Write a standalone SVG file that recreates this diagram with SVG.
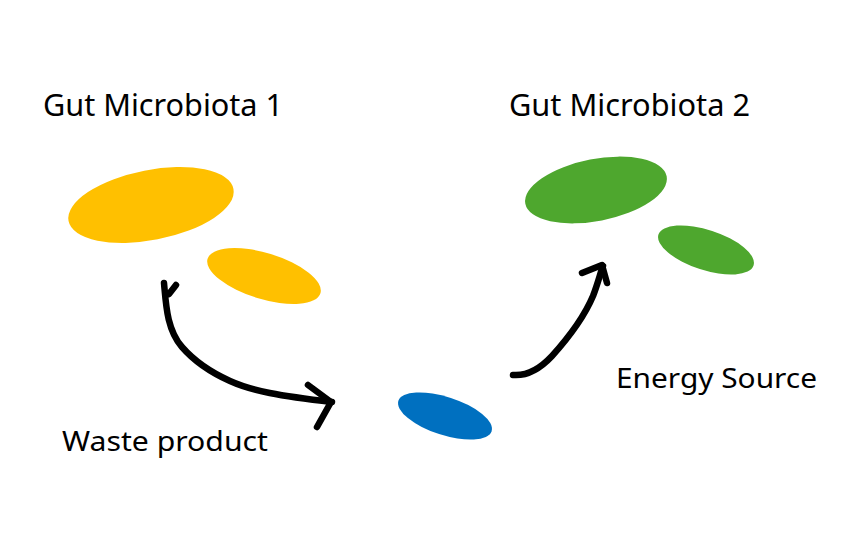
<svg xmlns="http://www.w3.org/2000/svg" width="841" height="541" viewBox="0 0 841 541">
<style>
.lbl{font-family:"Noto Sans","Liberation Sans",sans-serif;fill:#000;}
.big{font-size:30px;}
.sm{font-size:27px;}
.arrow{fill:none;stroke:#000;stroke-width:6.5;stroke-linecap:round;stroke-linejoin:round;}
.y{fill:#FFC000;}
.g{fill:#4EA72E;}
.b{fill:#0070C0;}
</style>
<rect width="841" height="541" fill="#fff"/>
<g id="title1"><text class="lbl big" x="43" y="116" textLength="240" lengthAdjust="spacingAndGlyphs">Gut Microbiota 1</text></g>
<g id="title2"><text class="lbl big" x="509" y="116" textLength="241" lengthAdjust="spacingAndGlyphs">Gut Microbiota 2</text></g>
<g id="microbe-y1"><ellipse class="y" cx="151" cy="205" rx="84" ry="35" transform="rotate(-11 151 205)"/></g>
<g id="microbe-y2"><ellipse class="y" cx="264" cy="276" rx="59" ry="23" transform="rotate(17 264 276)"/></g>
<g id="microbe-g1"><ellipse class="g" cx="596" cy="190" rx="72" ry="31" transform="rotate(-11 596 190)"/></g>
<g id="microbe-g2"><ellipse class="g" cx="706" cy="250" rx="50" ry="20" transform="rotate(18 706 250)"/></g>
<g id="microbe-b"><ellipse class="b" cx="445" cy="416" rx="49" ry="19" transform="rotate(18 445 416)"/></g>
<g id="waste"><text class="lbl sm" x="62" y="451" textLength="206" lengthAdjust="spacingAndGlyphs">Waste product</text></g>
<g id="energy"><text class="lbl sm" x="616" y="388" textLength="201" lengthAdjust="spacingAndGlyphs">Energy Source</text></g>
<g id="connectors">
<path class="arrow" d="M176 285 L169 294 M164 283 C166 305 167 330 182 347 C195 362 210 372 230 381 C252 391 280 396 332 402"/>
<path class="arrow" d="M308 385 L331 402 L317 427"/>
<path class="arrow" d="M513 375 C525 376 538 371 552 356 C570 336 585 315 593 296 C598 283 600 274 603 266"/>
<path class="arrow" d="M582 273 L602 265 L607 283"/>
</g>
</svg>
